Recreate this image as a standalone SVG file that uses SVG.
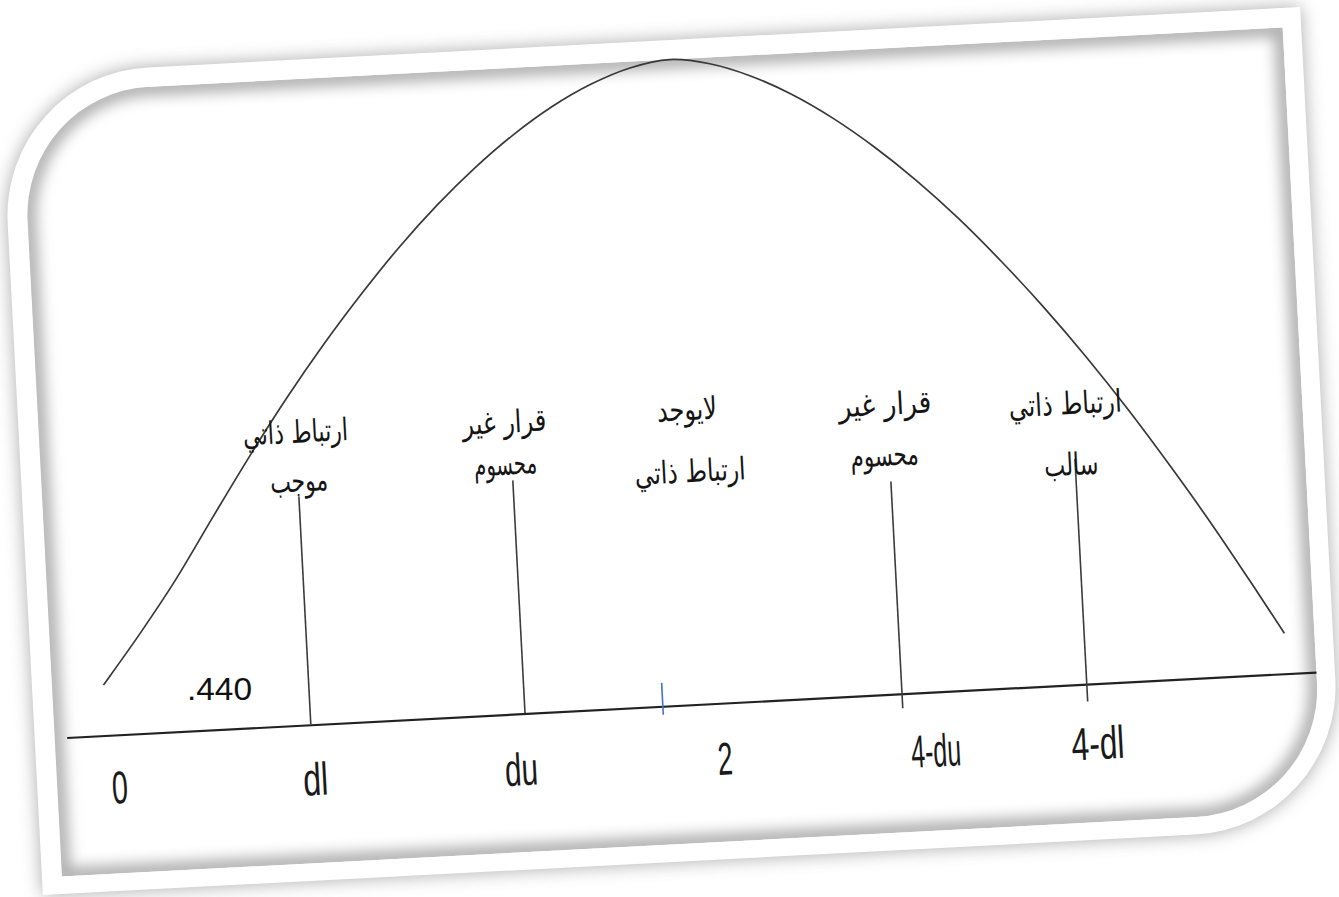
<svg xmlns="http://www.w3.org/2000/svg" width="1339" height="897" viewBox="0 0 1339 897">
<style>
.ar{font-family:"DejaVu Sans","Noto Sans",sans-serif;font-size:31px;fill:#151515;text-anchor:middle}
.ax{font-family:"Liberation Sans",Arial,sans-serif;font-size:46px;fill:#1a1a1a;text-anchor:middle}
.vl{stroke:#3c3c3c;stroke-width:1.6;fill:none}
</style>
<defs>
<filter id="outerShadow" x="-10%" y="-10%" width="120%" height="120%"><feGaussianBlur stdDeviation="9"/></filter>
<filter id="innerBlur" x="-10%" y="-10%" width="120%" height="120%"><feGaussianBlur stdDeviation="7"/></filter>
<clipPath id="innerClip"><path d="M 168.5 60 H 1304 V 716 A 128 128 0 0 1 1176 844 H 40.5 V 188 A 128 128 0 0 1 168.5 60 Z"/></clipPath>
</defs>
<rect width="1339" height="897" fill="#ffffff"/>
<g id="card" transform="rotate(-3 671.5 451)">
  <path d="M 168.5 40.5 H 1322.5 V 713.5 A 148 148 0 0 1 1174.5 861.5 H 20.5 V 188.5 A 148 148 0 0 1 168.5 40.5 Z" fill="#8c8c8c" opacity="0.75" filter="url(#outerShadow)"/>
  <path d="M 168.5 40.5 H 1322.5 V 713.5 A 148 148 0 0 1 1174.5 861.5 H 20.5 V 188.5 A 148 148 0 0 1 168.5 40.5 Z" fill="#ffffff"/>
  <g clip-path="url(#innerClip)">
    <path d="M 168.5 60 H 1304 V 716 A 128 128 0 0 1 1176 844 H 40.5 V 188 A 128 128 0 0 1 168.5 60 Z" fill="#ffffff"/>
    <path d="M 168.5 60 H 1304 V 716 A 128 128 0 0 1 1176 844 H 40.5 V 188 A 128 128 0 0 1 168.5 60 Z" fill="none" stroke="#b0b0b0" stroke-width="18" filter="url(#innerBlur)"/>
  </g>

  <g id="curve">
    <path d="M 92 655 C 98.33 647 117 624 130 607 C 143 590 156.67 572 170 553 C 183.33 534 196.67 512.83 210 493 C 223.33 473.17 236.67 453.17 250 434 C 263.33 414.83 276.67 396 290 378 C 303.33 360 316.67 342.67 330 326 C 343.33 309.33 356.67 293.42 370 278 C 383.33 262.58 396.67 247.58 410 233.5 C 423.33 219.42 436.67 206.08 450 193.5 C 463.33 180.92 476.67 169.08 490 158 C 503.33 146.92 516.67 136.5 530 127 C 543.33 117.5 556.67 108.73 570 101 C 583.33 93.27 596.67 86.38 610 80.6 C 623.33 74.82 636.67 69.73 650 66.3 C 663.33 62.87 676.67 60 690 60 C 703.33 60 716.67 62.87 730 66.3 C 743.33 69.73 756.67 74.82 770 80.6 C 783.33 86.38 796.67 93.27 810 101 C 823.33 108.73 836.67 117.5 850 127 C 863.33 136.5 876.67 146.92 890 158 C 903.33 169.08 916.67 180.92 930 193.5 C 943.33 206.08 956.67 219.42 970 233.5 C 983.33 247.58 996.67 262.58 1010 278 C 1023.33 293.42 1036.67 309.33 1050 326 C 1063.33 342.67 1076.67 360 1090 378 C 1103.33 396 1116.67 414.67 1130 434 C 1143.33 453.33 1156.67 473.5 1170 494 C 1183.33 514.5 1196.67 535.33 1210 557 C 1223.33 578.67 1239.33 606 1250 624 C 1260.67 642 1270 658.17 1274 665" fill="none" stroke="#383838" stroke-width="1.7"/>
  </g>

  <g id="connectors">
    <line id="axis" x1="53" y1="706" x2="1304" y2="706" stroke="#222" stroke-width="2.2"/>
    <line class="vl" x1="297" y1="477" x2="297" y2="705"/>
    <line class="vl" x1="511.5" y1="472" x2="511.5" y2="705"/>
    <line class="vl" x1="889" y1="493" x2="889" y2="720"/>
    <line class="vl" x1="1074" y1="480" x2="1074" y2="723"/>
    <line x1="649.5" y1="682" x2="649.5" y2="714" stroke="#4472c4" stroke-width="1.6"/>
  </g>

  <g id="node-dl-label">
    <text class="ar" x="297" y="423" textLength="105" lengthAdjust="spacingAndGlyphs">ارتباط ذاتي</text>
    <text class="ar" x="298" y="472" textLength="58" lengthAdjust="spacingAndGlyphs">موجب</text>
  </g>
  <g id="node-du-label">
    <text class="ar" x="506" y="424" textLength="84" lengthAdjust="spacingAndGlyphs">قرار غير</text>
    <text class="ar" x="505" y="466" textLength="63" lengthAdjust="spacingAndGlyphs">محسوم</text>
  </g>
  <g id="node-2-label">
    <text class="ar" x="689" y="421" textLength="60" lengthAdjust="spacingAndGlyphs">لايوجد</text>
    <text class="ar" x="689" y="483" textLength="111" lengthAdjust="spacingAndGlyphs">ارتباط ذاتي</text>
  </g>
  <g id="node-4du-label">
    <text class="ar" x="887" y="426" textLength="93" lengthAdjust="spacingAndGlyphs">قرار غير</text>
    <text class="ar" x="884" y="477" textLength="68" lengthAdjust="spacingAndGlyphs">محسوم</text>
  </g>
  <g id="node-4dl-label">
    <text class="ar" x="1067" y="435" textLength="113" lengthAdjust="spacingAndGlyphs">ارتباط ذاتي</text>
    <text class="ar" x="1070" y="496" textLength="54" lengthAdjust="spacingAndGlyphs">سالب</text>
  </g>

  <g id="axis-labels">
    <text class="ax" x="103" y="774" textLength="16" lengthAdjust="spacingAndGlyphs">0</text>
    <text class="ax" x="299" y="776" textLength="25" lengthAdjust="spacingAndGlyphs">dl</text>
    <text class="ax" x="505" y="777" textLength="33" lengthAdjust="spacingAndGlyphs">du</text>
    <text class="ax" x="709" y="777" textLength="15" lengthAdjust="spacingAndGlyphs">2</text>
    <text class="ax" x="920" y="780" textLength="50" lengthAdjust="spacingAndGlyphs">4-du</text>
    <text class="ax" x="1082" y="781" textLength="53" lengthAdjust="spacingAndGlyphs">4-dl</text>
  </g>
</g>
<text id="value-440" x="187" y="700" font-family="Liberation Sans, Arial, sans-serif" font-size="32" fill="#111" textLength="65" lengthAdjust="spacingAndGlyphs">.440</text>
</svg>
